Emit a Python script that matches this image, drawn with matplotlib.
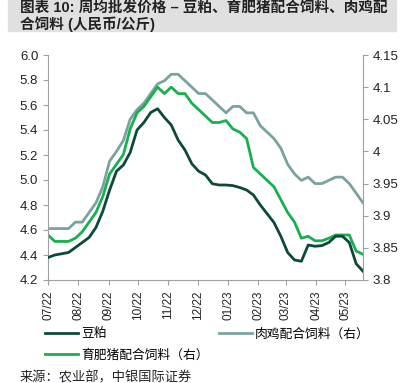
import pandas as pd
import matplotlib
matplotlib.use('Agg')
import matplotlib.pyplot as plt
import matplotlib.dates as mdates
from matplotlib.patches import Rectangle

plt.rcParams['font.family'] = ['Liberation Sans', 'Noto Sans CJK SC']
plt.rcParams['axes.unicode_minus'] = False

# 周度数据 (2022-07 ~ 2023-05)
dates = pd.date_range('2022-07-01', periods=47, freq='7D')

soymeal = [4.38, 4.40, 4.41, 4.42, 4.46, 4.50, 4.54, 4.62, 4.75, 4.92,
           5.07, 5.12, 5.22, 5.40, 5.46, 5.54, 5.57, 5.50, 5.44, 5.32,
           5.24, 5.13, 5.07, 5.04, 4.97, 4.96, 4.96, 4.955, 4.94, 4.92,
           4.88, 4.80, 4.73, 4.66, 4.55, 4.42, 4.36, 4.35, 4.48, 4.47,
           4.475, 4.50, 4.55, 4.55, 4.50, 4.33, 4.27]

broiler = [3.88, 3.88, 3.88, 3.88, 3.89, 3.89, 3.905, 3.92, 3.945, 3.985,
           4.00, 4.017, 4.05, 4.065, 4.075, 4.09, 4.105, 4.11, 4.12, 4.12,
           4.11, 4.10, 4.09, 4.09, 4.08, 4.07, 4.06, 4.07, 4.07, 4.06,
           4.06, 4.04, 4.03, 4.02, 4.005, 3.98, 3.965, 3.955, 3.96, 3.95,
           3.95, 3.955, 3.96, 3.96, 3.95, 3.935, 3.92]

hog = [3.87, 3.86, 3.86, 3.86, 3.865, 3.875, 3.89, 3.905, 3.93, 3.965,
       3.98, 3.995, 4.035, 4.06, 4.07, 4.085, 4.10, 4.09, 4.10, 4.09,
       4.09, 4.075, 4.065, 4.055, 4.045, 4.045, 4.048, 4.035, 4.03, 4.02,
       3.975, 3.965, 3.955, 3.945, 3.925, 3.905, 3.89, 3.865, 3.868, 3.861,
       3.861, 3.865, 3.87, 3.87, 3.87, 3.845, 3.84]

names = ['豆粕', '肉鸡配合饲料（右）', '育肥猪配合饲料（右）']
c_dark = '#0b4a3b'
c_teal = '#7aa3a0'
c_green = '#17b04e'
spine_c = '#a0a0a0'

fig = plt.figure(figsize=(4.06, 3.83), dpi=100)

# 标题
fig.patches.append(Rectangle((8/406, 1-31/383), 388/406, 31/383,
                             transform=fig.transFigure, color='#e0e0e0', zorder=0))
fig.text(20/406, 1-2/383, '图表 10: 周均批发价格 – 豆粕、育肥猪配合饲料、肉鸡配\n合饲料 (人民币/公斤)',
         fontsize=10.5, fontweight='bold', va='top', ha='left', linespacing=1.0, color='#222222')

ax = fig.add_axes([48/406, 1-280/383, 315/406, 225/383])
ax2 = ax.twinx()

l1, = ax.plot(dates, soymeal, color=c_dark, lw=2, zorder=3)
l2, = ax2.plot(dates, broiler, color=c_teal, lw=2)
l3, = ax2.plot(dates, hog, color=c_green, lw=2)
ax.set_zorder(ax2.get_zorder() + 1)
ax.patch.set_visible(False)

ax.set_ylim(4.2, 6.0)
ax.set_yticks([4.2, 4.4, 4.6, 4.8, 5.0, 5.2, 5.4, 5.6, 5.8, 6.0])
ax.set_yticklabels(['4.2', '4.4', '4.6', '4.8', '5.0', '5.2', '5.4', '5.6', '5.8', '6.0'])
ax2.set_ylim(3.8, 4.15)
ax2.set_yticks([3.8, 3.85, 3.9, 3.95, 4.0, 4.05, 4.1, 4.15])
ax2.set_yticklabels(['3.8', '3.85', '3.9', '3.95', '4', '4.05', '4.1', '4.15'])

ax.set_xlim(dates[0], dates[-1])
ax.xaxis.set_major_locator(mdates.MonthLocator())
ax.xaxis.set_major_formatter(mdates.DateFormatter('%m/%y'))
plt.setp(ax.get_xticklabels(), rotation=90)

for a in (ax, ax2):
    a.spines['top'].set_visible(False)
    for s in ('left', 'right', 'bottom'):
        a.spines[s].set_color(spine_c)
    a.tick_params(colors=spine_c, labelcolor='#222222', labelsize=9.5, length=3.5, width=0.8)
ax.tick_params(axis='x', pad=4, labelsize=8.5)
ax.spines['right'].set_visible(False)
ax2.spines['left'].set_visible(False)
ax2.spines['bottom'].set_visible(False)

fig.legend([l1, l3, l2], [names[0], names[2], names[1]], ncol=2,
           loc='upper left', bbox_to_anchor=(45/406, 1-328/383),
           frameon=False, fontsize=9.2, handlelength=2.6, handletextpad=0.25,
           columnspacing=0.75, labelspacing=0.7, borderaxespad=0, borderpad=0)

fig.text(20/406, 1-371/383, '来源：农业部，中银国际证券', fontsize=9.5, va='top', ha='left', color='#222222')

plt.savefig('out.png', dpi=100)
